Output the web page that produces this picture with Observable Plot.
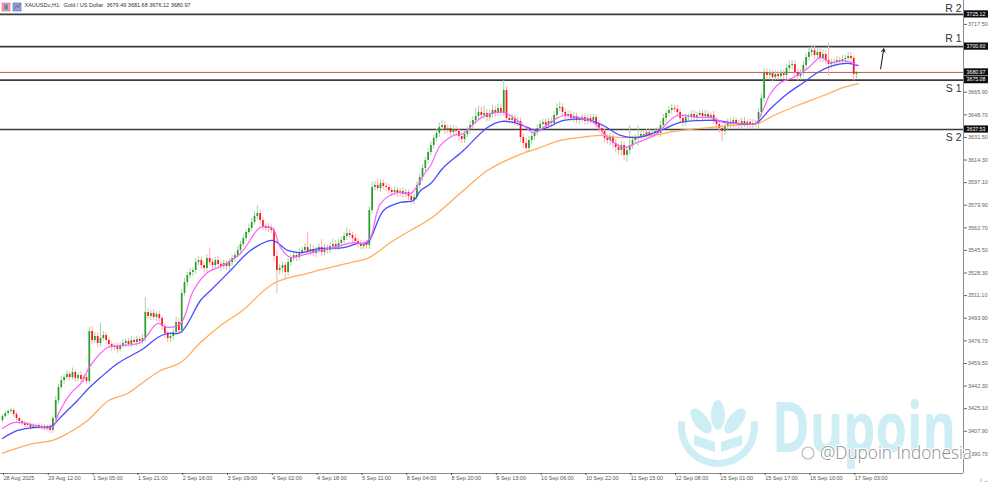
<!DOCTYPE html>
<html><head><meta charset="utf-8">
<script src="https://cdn.jsdelivr.net/npm/d3@7"></script>
<script src="https://cdn.jsdelivr.net/npm/@observablehq/plot@0.6"></script>
<style>html,body{margin:0;padding:0;background:#fff;overflow:hidden}</style>
</head><body><div id="chart"></div>
<script>
const headerText = "XAUUSDu,H1:  Gold / US Dollar  3679.49 3681.68 3676.12 3680.97";
const firstOpen = 3416.0;
const closes = [
3419.1,3421.4,3422.9,3423.7,3420.6,3417.6,3415.3,3413.8,3412.3,3413.0,
3410.7,3411.5,3412.3,3410.7,3411.5,3410.0,3411.5,3408.5,3417.6,3431.3,
3441.2,3446.5,3448.8,3451.1,3448.8,3452.6,3448.1,3450.3,3447.3,3448.8,
3445.8,3483.8,3477.0,3480.0,3474.7,3478.5,3480.8,3477.0,3473.9,3471.6,
3472.4,3470.1,3473.1,3474.7,3476.2,3473.9,3477.0,3475.4,3477.7,3476.2,
3478.5,3498.3,3495.2,3497.5,3494.5,3496.7,3493.7,3487.6,3482.3,3478.5,
3480.0,3483.1,3490.7,3484.6,3512.7,3521.1,3526.4,3528.7,3530.2,3536.3,
3537.8,3534.0,3531.8,3539.4,3536.3,3534.0,3537.8,3534.8,3533.3,3535.6,
3533.3,3536.3,3539.4,3541.6,3545.5,3550.0,3554.6,3559.1,3562.2,3566.8,
3571.3,3573.6,3568.3,3563.7,3562.2,3562.9,3560.7,3540.9,3530.2,3531.8,
3534.0,3528.7,3536.3,3539.4,3541.6,3540.1,3543.9,3545.5,3547.7,3544.7,
3546.2,3543.2,3545.5,3547.7,3543.9,3547.0,3545.5,3548.5,3550.0,3547.7,
3550.8,3553.1,3556.1,3558.4,3556.9,3554.6,3552.3,3550.0,3548.5,3550.8,
3549.3,3575.9,3593.4,3594.9,3592.6,3596.4,3594.2,3593.4,3591.1,3589.6,
3591.1,3588.8,3590.3,3588.1,3589.6,3586.5,3583.5,3585.8,3594.9,3601.0,
3607.9,3613.9,3620.0,3625.4,3630.7,3634.5,3639.1,3640.6,3636.8,3638.3,
3635.2,3637.5,3636.0,3632.2,3629.9,3633.7,3636.8,3640.6,3644.4,3647.4,
3650.5,3648.2,3649.7,3646.7,3648.9,3652.0,3649.7,3653.5,3650.5,3667.2,
3645.9,3644.4,3645.9,3642.9,3643.6,3631.4,3626.9,3623.1,3629.2,3632.2,
3635.2,3638.3,3641.3,3642.9,3640.6,3643.6,3642.1,3648.2,3653.5,3654.3,
3650.5,3647.4,3648.9,3645.9,3647.4,3644.4,3645.1,3646.7,3643.6,3645.9,
3644.4,3646.7,3641.3,3638.3,3636.0,3630.7,3629.2,3631.4,3626.9,3623.8,
3621.6,3625.4,3617.7,3621.6,3625.4,3629.2,3630.7,3632.2,3633.7,3633.0,
3635.2,3633.7,3634.5,3636.0,3634.5,3640.6,3645.9,3649.7,3652.0,3653.5,
3652.8,3650.5,3645.9,3642.9,3646.7,3647.4,3648.9,3646.7,3648.2,3649.7,
3647.4,3648.9,3646.7,3648.2,3644.4,3641.3,3638.3,3636.0,3639.8,3642.9,
3641.3,3644.4,3642.1,3640.6,3643.6,3641.3,3642.9,3640.6,3642.1,3641.3,
3650.5,3661.1,3680.9,3678.6,3680.1,3677.1,3679.4,3677.9,3680.1,3678.6,
3683.9,3686.2,3687.0,3680.9,3677.9,3680.1,3686.2,3692.3,3696.1,3697.6,
3693.8,3696.1,3691.6,3694.6,3690.0,3687.0,3687.8,3688.5,3690.0,3689.3,
3690.8,3691.6,3693.1,3691.6,3679.49,3680.97];
const upWick = [
1.5,2,1.5,2,1,1.5,1,1.5,2,1.5,
1.5,2,1,1.5,2,1.5,1,1.5,2,3,
2.5,3,2,3,2,3.5,2,2,3,2,
2,3,4,3,2.5,12,3,2,2.5,2,
2,2.5,2,3,2,2.5,3,2,2.5,2,
3,11.5,3,2.5,3,2,2.5,2,2,1.5,
3,2.5,4,3,3,3,2.5,3,2,3,
3,2.5,2,3,8,3,2.5,3,2,2.5,
2,3,2.5,2,3,2.5,3,2.5,3,3,
4,6,3,2.5,2,3,2,2,4,3,
3,2.5,3,2.5,3,2.5,3,2.5,3,11.5,
4,3,2.5,3,6,3,2.5,3,4,3,
3,2.5,3,4,3,2.5,3,2.5,3,2,
2.5,3,4,3,5,3,2.5,3,2.5,2,
3,2.5,2,3,2.5,2,3,2.5,3,3,
3,2.5,3,3,2.5,3,3.5,4,3,2.5,
2.5,3,2.5,2,2.5,3,2.5,3,3,6,
5,4,6,3,3.5,4,3,3.5,3,7.5,
3,2.5,3,2.5,3,2.5,3,4,3,3,
2.5,3,3,2.5,3,2.5,3,3,3.5,4,
3,2.5,3,2.5,3,2.5,2,2.5,3,2.5,
3,2.5,2,3,2.5,3,2.5,3,2.5,3,
2.5,3,2.5,3,15,3,2.5,8,2.5,3,
2.5,3,2.5,2,3,3,3,2.5,3,3,
2.5,3,2.5,3,2.5,2,2.5,3,2.5,2,
2.5,3,2.5,2,3,2.5,3,2.5,3,2.5,
3,2.5,2,3,2.5,3,2,2.5,3,2.5,
3,4,3,2.5,3,2.5,3,2.5,3,2.5,
3,3.5,3,3,2.5,3,3,3,3.5,4,
3,3.5,3,3.5,3,13,3,2.5,3,2.5,
3,2.5,3,3,2,0.71];
const downWick = [
2,1.5,2,1.5,2,1.5,2,1.5,2,1.5,
2,1.5,2,1.5,2,1.5,2,2.5,2,2,
2.5,2,3,2,2.5,2,3,2.5,2,3,
2.5,2,3,2.5,3,2.5,2,3,2.5,3,
2.5,3,2,2.5,3,2,2.5,2,3,2.5,
2,3,2.5,3,2.5,3,2.5,3,3.5,3,
3,3.5,2.5,3,2.5,2,3,2.5,3,3,
2.5,3,3.5,3,2.5,3,2.5,3,3.5,2.5,
3,2.5,3,2.5,2,2.5,2,2.5,2,2.5,
2,2.5,3,3,2.5,3,2.5,4,17.5,3.5,
4,5,3,3,2.5,3,2.5,3,2.5,3,
3,2.5,3,2.5,3,2.5,3,2.5,3,2.5,
2.5,3,2.5,3,2.5,3,3,2.5,3,2.5,
3,3,2.5,3,2.5,3,2.5,3,2.5,3,
2.5,3,2.5,3,2.5,3,3.5,3,2.5,3,
3,2.5,3,2.5,3,2.5,3,2.5,3,2.5,
3,2.5,3,3.5,3,3,2.5,3,2.5,3,
3,2.5,3,3.5,3,2.5,3,2.5,3,3,
3,2.5,3,3,3,3.5,4,3.5,3,3,
3,2.5,3,2.5,3,2.5,3,2.5,3,2.5,
3,2.5,3,2.5,3,2.5,3,2.5,3,2.5,
3,2.5,3,3,3.5,3,3,4,3.5,4,
3.5,4,4,5,3,3,2.5,6,2.5,3,
2.5,3,2.5,3,2.5,3,2.5,3,2.5,3,
2.5,3,3,3.5,3,2.5,3,2.5,3,2.5,
3,2.5,3,2.5,3,3,3.5,8,3,2.5,
3,2.5,3,2.5,3,2.5,3,2.5,3,2.5,
3,3,3.5,3,2.5,3,2.5,3,2.5,3,
3,2.5,3,3,3.5,3,2.5,3,2.5,3,
3,2.5,3,3,3.5,9,3,2.5,3,2.5,
2.5,3,2.5,3,5,3.37];

// moving averages: [bar, price]
const maFast = [[0,3410.0],[3.9,3414.5],[8.9,3413.8],[14.6,3410.7],[17.9,3410.7],[20,3421.4],[24.3,3436.6],[27.9,3444.2],[31.4,3457.9],[37.5,3471.6],[42.1,3473.1],[49.3,3475.4],[55.4,3489.9],[58.9,3486.9],[63.6,3489.9],[68.2,3515.0],[73.2,3528.7],[77.9,3533.3],[85,3543.2],[92.1,3562.9],[96.4,3562.2],[99.3,3547.7],[102.9,3540.1],[106.4,3541.6],[113.6,3545.5],[120.7,3549.3],[125.4,3551.5],[128.9,3550.8],[131.4,3555.3],[135,3581.2],[141.1,3589.6],[145.7,3588.8],[148.2,3594.9],[151,3604.8],[152.9,3610.1],[156.4,3625.4],[161.1,3633.0],[164.6,3634.5],[169.6,3644.4],[174.3,3649.7],[178.9,3650.5],[182.5,3646.7],[186.1,3640.6],[189.6,3635.2],[193.2,3639.1],[196.8,3644.4],[200.4,3648.2],[205.4,3646.7],[211.1,3642.9],[216.1,3631.4],[221.8,3623.8],[226.8,3627.6],[233.9,3634.5],[237.5,3642.9],[241.1,3648.2],[248.2,3646.7],[252.9,3646.7],[257.5,3642.9],[263.6,3642.1],[268.9,3642.1],[271.8,3653.5],[274.3,3664.9],[277.9,3673.3],[282.5,3677.1],[287.5,3683.9],[292.1,3692.3],[295.7,3688.5],[300.4,3690.0],[303.9,3687.8],[305.7,3686.2]];
const maMid = [[0,3402.4],[5.4,3408.5],[11.1,3410.7],[17.1,3411.5],[20.7,3418.4],[23.2,3423.7],[26.8,3431.3],[30.7,3440.4],[35,3448.8],[41.1,3459.5],[50.4,3470.9],[55.4,3479.2],[58.9,3482.3],[63.6,3483.1],[70.7,3507.4],[74.3,3515.0],[81.4,3530.2],[88.6,3545.5],[96.4,3553.1],[101.8,3545.5],[106.4,3543.9],[113.6,3547.0],[121.8,3547.7],[126.8,3550.8],[130.4,3551.5],[136.1,3575.9],[142.1,3582.0],[146.8,3583.5],[149.3,3591.1],[152.9,3596.4],[157.5,3608.6],[164.6,3621.6],[173.2,3639.1],[177.9,3643.6],[182.5,3642.9],[187.5,3639.1],[190.4,3636.8],[194.6,3639.1],[200.4,3644.4],[208.9,3645.1],[214.6,3640.6],[220.7,3633.0],[226.8,3631.4],[235,3636.8],[242.1,3642.9],[253.9,3644.4],[262.5,3642.1],[268.9,3642.1],[274.3,3653.5],[280.4,3664.9],[286.1,3673.3],[291.1,3680.9],[295.7,3685.5],[301.8,3687.8],[305.4,3686.2]];
const maSlow = [[0,3391.2],[11.1,3398.6],[17.9,3400.9],[23.2,3406.2],[30.4,3416.1],[37.9,3431.3],[44.6,3436.6],[51.1,3446.5],[56.4,3454.1],[63.6,3460.2],[70.7,3475.4],[77.9,3488.4],[85.7,3499.8],[96.8,3520.3],[110,3528.7],[124.3,3536.3],[130.4,3539.4],[138.6,3551.5],[145.7,3560.7],[152.9,3569.8],[164.6,3591.1],[173.2,3606.3],[183.9,3617.7],[191.1,3623.1],[199.3,3629.2],[208.9,3632.2],[213.6,3633.0],[220.7,3631.4],[231.4,3633.0],[242.1,3636.8],[252.9,3639.1],[263.6,3641.3],[269.6,3642.1],[275.4,3648.2],[283.9,3655.8],[293.2,3663.4],[300.4,3669.5],[305.7,3672.5]];

const levelNames = ["R 2","R 1","S 1","S 2"];
const levelValues = [3725.12, 3700.60, 3675.08, 3637.53];
const levelLabelShift = [-6, -8, 8, 8];
const lastPrice = 3680.97;
const arrowStart = [313.6, 3683.7];
const arrowEnd = [314.7, 3698.9];

const xTickBars = [0,16,32,48,64,80,96,112,128,144,160,176,192,208,224,240,256,272,288,304];
const xTickLabels = ["28 Aug 2025","29 Aug 12:00","1 Sep 05:00","1 Sep 21:00","2 Sep 16:00","3 Sep 09:00","4 Sep 02:00","4 Sep 18:00","5 Sep 11:00","8 Sep 04:00","8 Sep 20:00","9 Sep 13:00","10 Sep 06:00","10 Sep 22:00","11 Sep 15:00","12 Sep 08:00","15 Sep 01:00","15 Sep 17:00","16 Sep 10:00","17 Sep 03:00"];
const yTicks = [3390.70,3407.90,3425.10,3442.30,3459.50,3476.70,3493.90,3511.10,3528.30,3545.50,3562.70,3579.90,3597.10,3614.30,3631.50,3648.70,3665.90,3717.50];

if (upWick.length !== closes.length || downWick.length !== closes.length) console.error("length mismatch", closes.length, upWick.length, downWick.length);

const candles = closes.map((c, i) => {
  const o = i ? closes[i - 1] : firstOpen;
  return {i, o, c, h: Math.max(o, c) + upWick[i], l: Math.min(o, c) - downWick[i], up: c >= o};
});
const labelOf = new Map(xTickBars.map((b, k) => [b, xTickLabels[k]]));
const xDomain = [-0.714, 343.2];
const yDomain = [3375.75, 3735.7];
const levelData = levelNames.map((n, k) => ({n, v: levelValues[k], dy: levelLabelShift[k]}));

const chart = Plot.plot({
  width: 991, height: 484,
  marginLeft: 0, marginRight: 28, marginTop: 0, marginBottom: 11,
  style: {background: "#fff", fontFamily: "'Liberation Sans', Arial, sans-serif", overflow: "visible"},
  x: {domain: xDomain, axis: null},
  y: {domain: yDomain, axis: null},
  marks: [
    Plot.ruleY(levelValues, {stroke: "#3c3c3c", strokeWidth: 1.6}),
    Plot.ruleY([lastPrice], {stroke: "#c25555", strokeWidth: 1}),
    Plot.ruleX(candles, {x: "i", y1: "l", y2: "h", stroke: d => d.up ? "#a3d6a3" : "#ffadad", strokeWidth: 1}),
    Plot.ruleX(candles, {x: "i", y1: "o", y2: "c", stroke: d => d.up ? "#2a9a2a" : "#ff1414", strokeWidth: 1.7}),
    Plot.line(maSlow, {x: d => d[0], y: d => d[1], stroke: "#ffad5c", strokeWidth: 1.3, curve: "catmull-rom"}),
    Plot.line(maMid, {x: d => d[0], y: d => d[1], stroke: "#4a4aff", strokeWidth: 1.3, curve: "catmull-rom"}),
    Plot.line(maFast, {x: d => d[0], y: d => d[1], stroke: "#ff5cff", strokeWidth: 1.2, curve: "catmull-rom"}),
    Plot.arrow([{a: arrowStart, b: arrowEnd}], {x1: d => d.a[0], y1: d => d.a[1], x2: d => d.b[0], y2: d => d.b[1], stroke: "#111", strokeWidth: 1, headLength: 5}),
    Plot.ruleY([yDomain[0]], {stroke: "#8a8a8a", strokeWidth: 1}),
    Plot.ruleX([xDomain[1]], {stroke: "#8a8a8a", strokeWidth: 1}),
    Plot.axisY({anchor: "right", ticks: yTicks, tickSize: 3, tickPadding: 1.5, fontSize: 5.5, tickFormat: d => d.toFixed(2), color: "#666"}),
    Plot.axisX({anchor: "bottom", ticks: xTickBars, tickSize: 2, tickPadding: 1, fontSize: 5.5, textAnchor: "start", dx: 1, tickFormat: d => labelOf.get(d), color: "#555"}),
    ...levelData.map(d => Plot.text([d], {x: xDomain[1], y: "v", text: "n", dy: d.dy, textAnchor: "end", dx: -2, fontSize: 10.5, fill: "#333"})),
    Plot.text([headerText], {frameAnchor: "top-left", dx: 24, dy: 4.5, textAnchor: "start", lineAnchor: "middle", fontSize: 5.5, fill: "#333"})
  ]
});
document.getElementById("chart").appendChild(chart);

const svg = d3.select(chart);
const ys = chart.scale("y");

// watermark (decoration) behind marks
const wmColor = "#cdeef4";
const wm = svg.insert("g", "g").attr("pointer-events", "none");
const cx = 718, cy = 427, r = 40;
wm.append("path")
  .attr("d", d3.arc()({innerRadius: r - 7, outerRadius: r, startAngle: Math.PI * 0.45, endAngle: Math.PI * 1.55}))
  .attr("transform", `translate(${cx},${cy})`).attr("fill", wmColor);
[[-17, -6, -38], [0, -12, 0], [17, -6, 38]].forEach(([dx, dy, rot]) => {
  wm.append("ellipse").attr("cx", cx + dx).attr("cy", cy + dy).attr("rx", 7).attr("ry", 15)
    .attr("transform", `rotate(${rot},${cx + dx},${cy + dy})`).attr("fill", wmColor);
});
wm.append("path").attr("d", `M${cx - 24},${cy + 8} L${cx - 3},${cy + 15} L${cx - 3},${cy + 25} L${cx - 24},${cy + 18} Z`).attr("fill", wmColor);
wm.append("path").attr("d", `M${cx + 24},${cy + 8} L${cx + 3},${cy + 15} L${cx + 3},${cy + 25} L${cx + 24},${cy + 18} Z`).attr("fill", wmColor);
wm.append("text").attr("x", 772).attr("y", 452).attr("text-anchor", "start").text("Dupoin")
  .attr("font-family", "'Open Sans', sans-serif").attr("font-weight", 700).attr("font-size", 70)
  .attr("textLength", 184).attr("lengthAdjust", "spacingAndGlyphs").attr("fill", wmColor);

// social handle
const sh = svg.append("g");
sh.append("circle").attr("cx", 808).attr("cy", 453).attr("r", 6).attr("fill", "none").attr("stroke", "#bbb").attr("stroke-width", 1.2);
sh.append("text").attr("x", 820).attr("y", 459).attr("text-anchor", "start").text("@Dupoin Indonesia")
  .attr("font-family", "'Open Sans', sans-serif").attr("font-weight", 300).attr("font-size", 17.5)
  .attr("textLength", 152).attr("lengthAdjust", "spacingAndGlyphs")
  .attr("fill", "#8c8c8c").attr("stroke", "#fff").attr("stroke-width", 2.2).attr("paint-order", "stroke");

// header icons
const hi = svg.append("g");
hi.append("rect").attr("x", 2).attr("y", 3).attr("width", 8).attr("height", 8).attr("fill", "#f6a0a0").attr("stroke", "#d66").attr("stroke-width", 0.6);
hi.append("rect").attr("x", 4).attr("y", 4.5).attr("width", 4).attr("height", 5).attr("fill", "#5b8ad6");
hi.append("rect").attr("x", 13).attr("y", 3).attr("width", 8).attr("height", 8).attr("fill", "#7fa8e8").attr("stroke", "#3b6fc4").attr("stroke-width", 0.6);
hi.append("path").attr("d", "M14.5 9 L16.5 5 L18 8 L20 4").attr("fill", "none").attr("stroke", "#e34").attr("stroke-width", 0.8);

// price label boxes on the right axis
const boxes = levelValues.concat([lastPrice]);
const pb = svg.append("g");
boxes.forEach(v => {
  const py = ys.apply(v);
  pb.append("rect").attr("x", 964).attr("y", py - 3.6).attr("width", 24).attr("height", 7.2).attr("fill", "#0d0d0d");
  pb.append("text").attr("x", 976).attr("y", py).attr("dy", "0.35em").attr("text-anchor", "middle")
    .attr("font-family", "'Liberation Sans', Arial, sans-serif").attr("font-size", 5.2).attr("fill", "#fff")
    .text(v.toFixed(2));
});
</script>
</body></html>
